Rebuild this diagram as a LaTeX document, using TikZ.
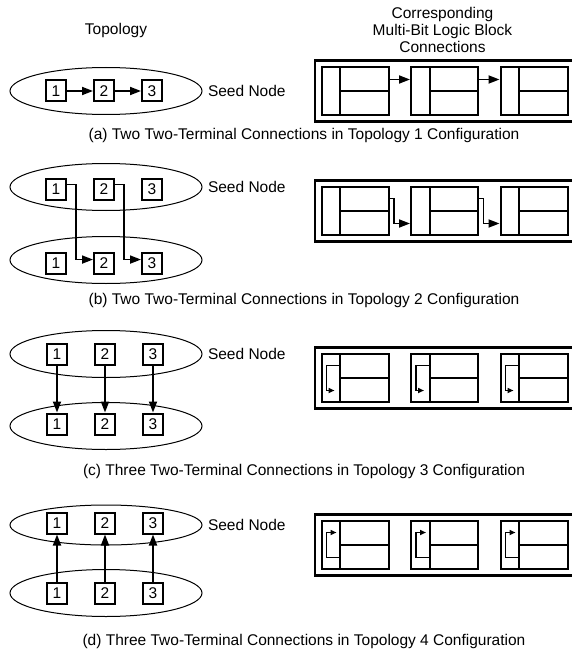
\documentclass[tikz,border=0pt]{standalone}
\usepackage{fontspec}
\setmainfont{Liberation Sans}
\usetikzlibrary{arrows.meta,positioning,calc,shapes.geometric}
\tikzset{seedring/.style={draw,line width=1pt,ellipse,minimum width=192pt,minimum height=47pt,inner sep=0pt},cellbox/.style={draw,line width=2pt,minimum width=20pt,minimum height=21pt,inner sep=0pt,font=\fontsize{15.5}{17}\selectfont},lbframe/.style={draw,line width=2.2pt,minimum width=265pt,minimum height=61pt,inner sep=0pt},lbblock/.style={draw,line width=2pt,minimum width=67pt,minimum height=48pt,inner sep=0pt,path picture={\draw[line width=2pt] ([xshift=18.5pt]path picture bounding box.north west) -- ([xshift=18.5pt]path picture bounding box.south west) ([xshift=18.5pt]path picture bounding box.west) -- (path picture bounding box.east);}},linkarr/.style={-{Triangle[length=11pt,width=8pt]},line width=1.8pt},looparr/.style={-{Triangle[length=6pt,width=5pt]},line width=1.8pt},plaintext/.style={font=\fontsize{15.5}{17}\selectfont,align=center}}
\begin{document}
\begin{tikzpicture}[x=1pt,y=-1pt]
\clip (0,0) rectangle (572,650);
\node[plaintext] (topo) at (116,30) {Topology};
\node[plaintext] (mlb) at (442.5,30) {Corresponding\\Multi-Bit Logic Block\\Connections};
% (a)
\node[seedring] (ea) at (106,91) {};
\foreach \n/\x in {1/56,2/104,3/152} \node[cellbox] (a\n) at (\x,91) {\n};
\node[plaintext,right=2pt of ea] (sa) {Seed Node};
\draw[linkarr] (a1)--(a2);
\draw[linkarr] (a2)--(a3);
\node[lbframe] (fa) at (447.5,91) {};
\foreach \n/\x in {1/355,2/444.5,3/534} \node[lbblock] (ka\n) at (\x,91) {};
\draw[linkarr] ($(ka1.north east)!0.27!(ka1.south east)$)--($(ka2.north west)!0.27!(ka2.south west)$);
\draw[linkarr] ($(ka2.north east)!0.27!(ka2.south east)$)--($(ka3.north west)!0.27!(ka3.south west)$);
\node[plaintext] (capa) at (304,135) {(a) Two Two-Terminal Connections in Topology 1 Configuration};
% (b)
\node[seedring] (eb) at (106,187) {};
\node[seedring] (fb) at (106,260) {};
\foreach \n/\x in {1/56,2/104,3/152} {\node[cellbox] (bt\n) at (\x,189) {\n}; \node[cellbox] (bb\n) at (\x,263) {\n};}
\node[plaintext,right=2pt of eb] (sb) {Seed Node};
\draw[linkarr] ($(bt1.north east)!0.3!(bt1.south east)$) -- ++(9,0) |- ($(bb2.north west)!0.35!(bb2.south west)$);
\draw[linkarr] ($(bt2.north east)!0.3!(bt2.south east)$) -- ++(9,0) |- ($(bb3.north west)!0.35!(bb3.south west)$);
\node[lbframe] (gb) at (447.5,211) {};
\foreach \n/\x in {1/355,2/444.5,3/534} \node[lbblock] (kb\n) at (\x,211) {};
\draw[linkarr] ($(kb1.north east)!0.25!(kb1.south east)$) -- ++(4.5,0) |- ($(kb2.north west)!0.75!(kb2.south west)$);
\draw[linkarr] ($(kb2.north east)!0.25!(kb2.south east)$) -- ++(4.5,0) |- ($(kb3.north west)!0.75!(kb3.south west)$);
\node[plaintext] (capb) at (304,300) {(b) Two Two-Terminal Connections in Topology 2 Configuration};
% (c)
\node[seedring] (ec) at (106,354) {};
\node[seedring] (fc) at (106,426) {};
\foreach \n/\x in {1/57,2/105,3/153} {\node[cellbox] (ct\n) at (\x,354) {\n}; \node[cellbox] (cb\n) at (\x,424) {\n}; \draw[linkarr] (ct\n)--(cb\n);}
\node[plaintext,right=2pt of ec] (sc) {Seed Node};
\node[lbframe] (gc) at (447.5,378) {};
\foreach \n/\x in {1/355,2/444.5,3/534} {\node[lbblock] (kc\n) at (\x,378) {};
  \draw[looparr] ($(kc\n.north west)!0.25!(kc\n.south west)+(18.5,0)$) -- ++(-12.5,0) |- ($(kc\n.north west)!0.75!(kc\n.south west)+(14,0)$);}
\node[plaintext] (capc) at (304,471) {(c) Three Two-Terminal Connections in Topology 3 Configuration};
% (d)
\node[seedring,minimum height=40pt] (ed) at (106,525) {};
\node[seedring] (fd) at (106,593) {};
\foreach \n/\x in {1/57,2/105,3/153} {\node[cellbox] (dt\n) at (\x,523) {\n}; \node[cellbox] (db\n) at (\x,593) {\n}; \draw[linkarr] (db\n)--(dt\n);}
\node[plaintext,right=2pt of ed] (sd) {Seed Node};
\node[lbframe] (gd) at (447.5,545) {};
\foreach \n/\x in {1/355,2/444.5,3/534} {\node[lbblock] (kd\n) at (\x,545) {};
  \draw[looparr] ($(kd\n.north west)!0.75!(kd\n.south west)+(18.5,0)$) -- ++(-12.5,0) |- ($(kd\n.north west)!0.25!(kd\n.south west)+(16,0)$);}
\node[plaintext] (capd) at (304,641) {(d) Three Two-Terminal Connections in Topology 4 Configuration};
\end{tikzpicture}
\end{document}
